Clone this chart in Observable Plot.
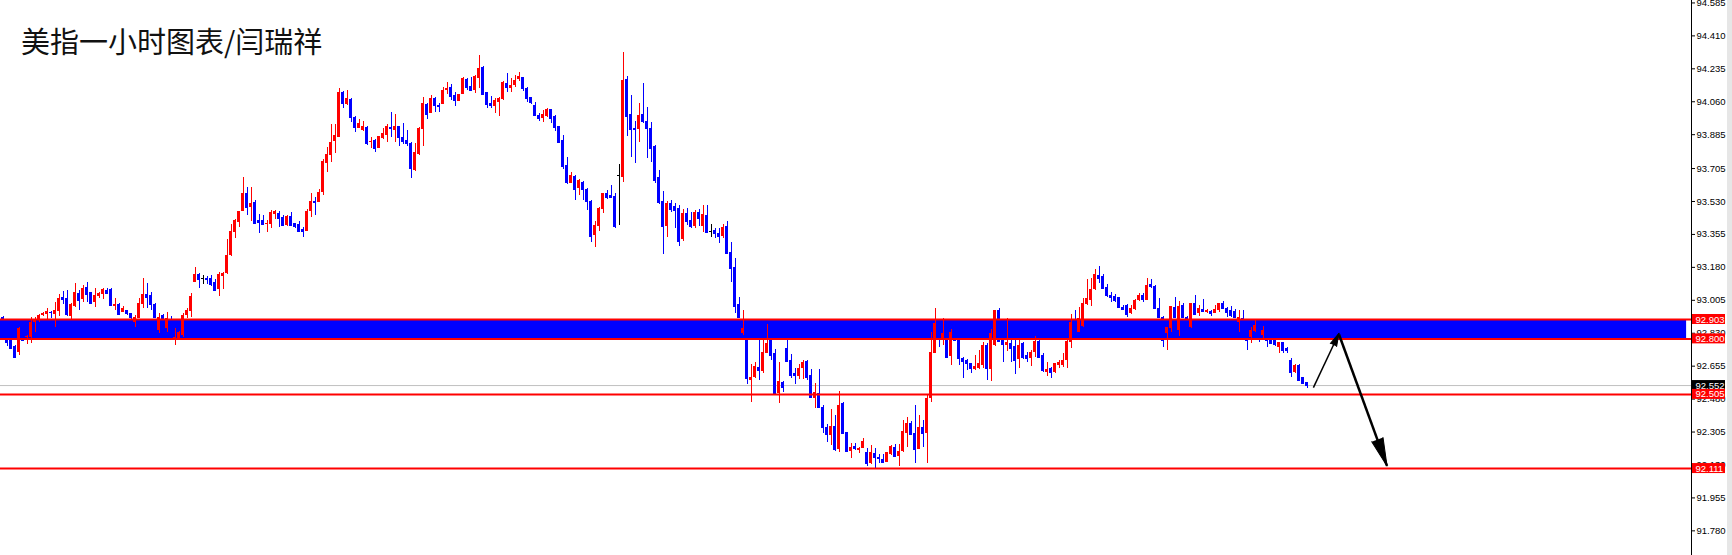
<!DOCTYPE html>
<html><head><meta charset="utf-8">
<script src="https://cdn.jsdelivr.net/npm/d3@7"></script>
<script src="https://cdn.jsdelivr.net/npm/@observablehq/plot@0.6"></script>
<style>
html,body{margin:0;padding:0;background:#fff;}
#wrap{position:relative;width:1732px;height:555px;overflow:hidden;background:#fff;}
#title{position:absolute;left:21px;top:26px;font-family:"Noto Sans CJK SC";font-size:29px;line-height:1;color:#111;font-weight:400;white-space:nowrap;}
#edge{position:absolute;right:0;top:0;width:5px;height:555px;background:#e6e6e6;}
</style></head><body>
<div id="wrap"><div id="title">美指一小时图表/闫瑞祥</div><div id="edge"></div></div>
<script>
// Hourly candles, USD index (open / high / low / close)
const opens = [92.915,92.800,92.792,92.760,92.730,92.800,92.807,92.809,92.885,92.898,92.924,92.928,92.942,92.930,92.946,93.022,93.016,92.921,92.974,93.041,93.009,93.071,93.047,92.995,93.024,93.038,93.059,93.062,92.970,92.981,92.939,92.951,92.933,92.885,92.907,92.983,93.036,93.031,92.983,92.845,92.925,92.854,92.900,92.796,92.801,92.818,92.925,92.947,93.102,93.142,93.119,93.123,93.119,93.102,93.063,93.133,93.146,93.243,93.367,93.420,93.477,93.574,93.500,93.527,93.429,93.429,93.411,93.408,93.463,93.465,93.443,93.403,93.450,93.412,93.406,93.381,93.372,93.479,93.532,93.527,93.580,93.734,93.775,93.849,93.872,94.111,94.046,94.072,93.978,93.920,93.907,93.925,93.846,93.854,93.810,93.867,93.881,93.925,93.907,93.929,93.868,93.854,93.837,93.695,93.780,93.911,94.046,93.996,94.076,94.040,94.046,94.122,94.138,94.093,94.063,94.099,94.178,94.143,94.120,94.182,94.244,94.111,94.051,94.035,94.058,94.072,94.155,94.132,94.146,94.177,94.187,94.132,94.081,94.040,93.987,93.973,93.984,94.019,93.984,93.929,93.854,93.721,93.628,93.663,93.601,93.633,93.594,93.532,93.350,93.399,93.486,93.574,93.562,93.557,93.668,93.659,94.178,93.993,93.920,93.911,93.993,93.955,93.920,93.824,93.659,93.530,93.399,93.520,93.505,93.491,93.327,93.465,93.429,93.399,93.474,93.399,93.456,93.373,93.376,93.362,93.346,93.397,93.261,93.181,92.983,92.827,92.830,92.579,92.597,92.650,92.629,92.721,92.801,92.721,92.508,92.570,92.748,92.686,92.615,92.602,92.641,92.682,92.606,92.485,92.512,92.438,92.331,92.287,92.334,92.212,92.455,92.301,92.203,92.230,92.207,92.219,92.194,92.136,92.189,92.171,92.157,92.141,92.186,92.225,92.175,92.202,92.299,92.352,92.295,92.212,92.331,92.299,92.485,92.721,92.830,92.791,92.800,92.708,92.809,92.800,92.694,92.685,92.671,92.637,92.644,92.659,92.765,92.637,92.765,92.951,92.795,92.765,92.777,92.761,92.689,92.774,92.712,92.697,92.726,92.786,92.712,92.623,92.641,92.620,92.659,92.659,92.685,92.779,92.905,92.832,92.867,92.981,93.004,93.062,93.137,93.133,93.075,93.030,93.025,93.018,92.968,92.977,92.933,92.956,93.004,93.030,93.004,93.089,93.080,92.963,92.915,92.827,92.854,92.969,92.845,92.978,92.916,92.863,92.987,92.933,92.955,92.939,92.946,92.933,92.951,92.990,92.964,92.951,92.946,92.886,92.910,92.860,92.809,92.840,92.870,92.818,92.840,92.800,92.800,92.756,92.779,92.751,92.686,92.620,92.659,92.593,92.567];
const highs = [92.921,92.810,92.804,92.765,92.862,92.805,92.818,92.915,92.915,92.928,92.940,92.963,92.946,92.995,93.034,93.052,93.057,92.986,93.094,93.057,93.084,93.098,93.048,93.066,93.048,93.066,93.066,93.066,93.013,92.986,92.972,92.951,92.935,92.924,93.013,93.119,93.093,93.048,92.986,92.937,92.930,92.940,92.919,92.854,92.840,92.933,92.960,93.040,93.178,93.149,93.137,93.132,93.137,93.114,93.155,93.155,93.328,93.408,93.433,93.477,93.659,93.606,93.606,93.535,93.461,93.456,93.429,93.482,93.482,93.477,93.456,93.456,93.472,93.415,93.426,93.394,93.486,93.571,93.550,93.594,93.752,93.819,93.939,93.939,94.132,94.116,94.120,94.079,93.984,93.966,93.955,93.930,93.868,93.860,93.877,93.920,93.938,94.001,93.991,93.929,93.943,93.907,93.842,93.837,93.925,94.084,94.049,94.093,94.085,94.049,94.138,94.164,94.150,94.111,94.099,94.191,94.185,94.191,94.200,94.306,94.249,94.111,94.088,94.079,94.085,94.168,94.208,94.185,94.200,94.217,94.191,94.138,94.081,94.054,93.996,94.014,94.026,94.019,93.987,93.929,93.881,93.762,93.686,93.668,93.647,93.636,93.597,93.535,93.424,93.500,93.574,93.589,93.615,93.571,93.727,94.320,94.194,94.093,93.955,94.053,94.155,94.031,93.952,93.828,93.695,93.585,93.530,93.535,93.520,93.510,93.488,93.491,93.474,93.482,93.488,93.509,93.509,93.406,93.385,93.389,93.406,93.424,93.314,93.229,93.022,92.951,92.840,92.662,92.677,92.809,92.801,92.877,92.801,92.744,92.677,92.576,92.801,92.716,92.641,92.662,92.686,92.686,92.638,92.565,92.638,92.446,92.344,92.425,92.393,92.522,92.460,92.301,92.246,92.242,92.225,92.269,92.216,92.233,92.216,92.184,92.184,92.194,92.233,92.237,92.239,92.366,92.380,92.361,92.446,92.393,92.366,92.504,92.836,92.960,92.850,92.907,92.809,92.848,92.815,92.809,92.703,92.689,92.671,92.712,92.738,92.782,92.774,92.848,92.951,92.960,92.810,92.907,92.791,92.791,92.791,92.779,92.729,92.738,92.814,92.800,92.721,92.676,92.646,92.671,92.685,92.724,92.791,92.928,92.951,92.968,93.016,93.115,93.119,93.169,93.186,93.140,93.087,93.048,93.034,93.022,92.977,92.981,92.977,93.007,93.039,93.039,93.119,93.114,93.084,93.016,92.920,92.863,92.974,93.022,92.999,92.987,92.920,92.987,93.031,92.978,93.010,92.955,92.951,92.978,92.987,92.999,92.969,92.974,92.956,92.951,92.951,92.880,92.863,92.898,92.880,92.868,92.850,92.810,92.805,92.783,92.783,92.756,92.694,92.663,92.663,92.597,92.570];
const lows = [92.818,92.761,92.747,92.700,92.712,92.790,92.772,92.774,92.836,92.885,92.920,92.903,92.907,92.862,92.921,92.981,92.921,92.898,92.969,92.951,92.995,92.992,92.983,92.969,93.013,93.009,93.034,92.977,92.951,92.924,92.939,92.924,92.905,92.862,92.907,92.960,92.960,92.951,92.915,92.827,92.880,92.834,92.795,92.764,92.790,92.810,92.907,92.912,93.102,93.066,93.089,93.089,93.079,93.054,93.025,93.063,93.142,93.240,93.335,93.394,93.477,93.456,93.424,93.415,93.362,93.408,93.367,93.388,93.436,93.394,93.397,93.399,93.399,93.388,93.372,93.341,93.372,93.447,93.456,93.527,93.562,93.686,93.739,93.787,93.872,94.023,94.040,93.948,93.899,93.916,93.902,93.828,93.810,93.792,93.810,93.858,93.845,93.872,93.842,93.822,93.831,93.822,93.654,93.690,93.775,93.824,93.966,93.996,94.005,94.005,94.046,94.097,94.067,94.037,94.063,94.099,94.120,94.115,94.106,94.129,94.093,94.023,94.023,93.996,93.984,94.067,94.111,94.107,94.138,94.170,94.116,94.058,94.045,93.984,93.955,93.952,93.978,93.946,93.902,93.837,93.700,93.619,93.628,93.535,93.562,93.535,93.482,93.314,93.288,93.373,93.468,93.541,93.544,93.385,93.403,93.633,93.877,93.766,93.730,93.845,93.943,93.757,93.736,93.624,93.512,93.247,93.341,93.470,93.385,93.293,93.318,93.403,93.385,93.385,93.399,93.367,93.358,93.341,93.332,93.305,93.332,93.247,93.098,92.933,92.907,92.818,92.558,92.461,92.588,92.579,92.615,92.721,92.686,92.500,92.459,92.517,92.682,92.592,92.556,92.585,92.585,92.579,92.485,92.429,92.432,92.296,92.252,92.233,92.202,92.198,92.296,92.203,92.163,92.207,92.189,92.216,92.124,92.133,92.106,92.140,92.141,92.141,92.180,92.172,92.122,92.198,92.225,92.287,92.140,92.210,92.225,92.140,92.464,92.721,92.756,92.765,92.697,92.659,92.785,92.659,92.588,92.632,92.614,92.632,92.637,92.641,92.579,92.575,92.759,92.779,92.673,92.733,92.673,92.609,92.641,92.690,92.676,92.655,92.703,92.703,92.623,92.602,92.588,92.614,92.641,92.650,92.641,92.751,92.830,92.832,92.862,92.977,92.974,93.057,93.092,93.061,93.022,92.995,92.992,92.960,92.951,92.915,92.928,92.951,93.000,92.995,93.004,93.066,92.960,92.907,92.756,92.739,92.836,92.907,92.815,92.907,92.850,92.854,92.925,92.921,92.942,92.935,92.921,92.933,92.942,92.956,92.916,92.916,92.907,92.836,92.792,92.739,92.774,92.836,92.783,92.792,92.756,92.774,92.762,92.724,92.721,92.721,92.597,92.615,92.576,92.562,92.535];
const closes = [92.836,92.783,92.751,92.703,92.857,92.793,92.815,92.885,92.898,92.924,92.937,92.946,92.939,92.951,93.016,93.009,92.928,92.983,93.045,93.006,93.066,93.038,92.986,93.031,93.039,93.061,93.041,92.977,92.981,92.930,92.960,92.937,92.915,92.915,92.990,93.036,93.020,92.981,92.915,92.914,92.905,92.907,92.830,92.806,92.836,92.924,92.951,93.025,93.142,93.114,93.119,93.116,93.089,93.057,93.142,93.149,93.243,93.371,93.429,93.477,93.574,93.500,93.521,93.415,93.420,93.408,93.415,93.470,93.477,93.438,93.403,93.450,93.403,93.399,93.372,93.372,93.479,93.532,93.527,93.580,93.744,93.780,93.845,93.881,94.108,94.049,94.076,93.978,93.925,93.943,93.930,93.837,93.849,93.813,93.877,93.890,93.929,93.916,93.929,93.872,93.849,93.837,93.704,93.792,93.920,94.053,93.991,94.079,94.040,94.035,94.120,94.132,94.090,94.067,94.099,94.185,94.138,94.120,94.194,94.239,94.099,94.046,94.040,94.067,94.079,94.164,94.138,94.146,94.173,94.194,94.132,94.076,94.058,93.987,93.973,93.991,94.019,93.973,93.925,93.842,93.718,93.633,93.668,93.594,93.642,93.592,93.532,93.346,93.403,93.495,93.574,93.553,93.551,93.397,93.668,94.173,93.984,93.911,93.911,93.987,93.955,93.916,93.814,93.642,93.523,93.399,93.520,93.490,93.482,93.318,93.465,93.426,93.399,93.470,93.442,93.461,93.367,93.373,93.358,93.346,93.390,93.252,93.173,92.974,92.912,92.854,92.588,92.597,92.654,92.632,92.730,92.774,92.712,92.508,92.576,92.544,92.682,92.606,92.606,92.645,92.677,92.597,92.491,92.517,92.438,92.331,92.291,92.334,92.210,92.446,92.299,92.203,92.221,92.216,92.216,92.255,92.140,92.194,92.171,92.163,92.141,92.194,92.230,92.177,92.202,92.308,92.352,92.292,92.212,92.327,92.299,92.481,92.729,92.880,92.798,92.827,92.703,92.836,92.790,92.697,92.682,92.667,92.644,92.653,92.671,92.765,92.641,92.827,92.951,92.788,92.768,92.783,92.751,92.685,92.765,92.703,92.694,92.729,92.786,92.703,92.632,92.637,92.620,92.667,92.673,92.685,92.786,92.889,92.850,92.910,92.986,93.016,93.062,93.140,93.119,93.066,93.030,93.022,93.004,92.965,92.956,92.930,92.963,93.004,93.030,93.007,93.084,93.080,92.963,92.915,92.792,92.863,92.974,92.916,92.974,92.916,92.880,92.987,92.928,92.964,92.946,92.951,92.933,92.956,92.987,92.964,92.939,92.925,92.916,92.916,92.850,92.790,92.845,92.871,92.810,92.845,92.790,92.774,92.770,92.779,92.739,92.739,92.620,92.659,92.579,92.562,92.552];

// Axis tick labels (price)
const tickValues = [94.585,94.410,94.235,94.060,93.885,93.705,93.530,93.355,93.180,93.005,92.830,92.655,92.480,92.305,92.130,91.955,91.780];

// Horizontal levels (red lines) and the resistance zone
const levelPrices = [92.903, 92.800, 92.505, 92.111];
const zoneLow = 92.800, zoneHigh = 92.903, zoneEndBar = 420.9;
const lastPrice = 92.552;

// Hand-drawn arrows (bar index, price)
const arrowUp = {x1: 327.6, y1: 92.541, x2: 334.0, y2: 92.830};
const arrowDown = {x1: 334.0, y1: 92.823, x2: 346.0, y2: 92.125};

const xMin = -0.625, xMax = 422.125;
const W = 1732, H = 555, MR = 41;
const yDomain = [91.649, 94.598];
const candles = opens.map((o, i) => ({
  i, o, h: highs[i], l: lows[i], c: closes[i],
  color: closes[i] > o ? "#ff0000" : closes[i] < o ? "#0000ff" : "#000000"
}));

// arrow directions in screen space (degrees clockwise from north)
const sx = Plot.scale({x: {type: "linear", domain: [xMin, xMax], range: [0, W - MR]}});
const sy = Plot.scale({y: {type: "linear", domain: yDomain, range: [H, 0]}});
function angleOf(a) {
  const dx = sx.apply(a.x2) - sx.apply(a.x1);
  const dy = sy.apply(a.y2) - sy.apply(a.y1);
  return Math.atan2(dx, -dy) * 180 / Math.PI;
}
arrowUp.angle = angleOf(arrowUp);
arrowDown.angle = angleOf(arrowDown);

const labelFont = "Liberation Sans, Arial, sans-serif";

const chart = Plot.plot({
  width: W, height: H,
  marginLeft: 0, marginRight: MR, marginTop: 0, marginBottom: 0,
  x: {type: "linear", domain: [xMin, xMax], axis: null},
  y: {type: "linear", domain: yDomain, axis: null},
  style: {background: "transparent", overflow: "visible"},
  marks: [
    Plot.ruleY([lastPrice], {x1: xMin, x2: xMax, stroke: "#c0c0c0", strokeWidth: 1}),
    Plot.rect([{lo: zoneLow, hi: zoneHigh}], {x1: xMin, x2: zoneEndBar, y1: "lo", y2: "hi", fill: "#0000ff"}),
    Plot.ruleX(candles, {x: "i", y1: "l", y2: "h", stroke: "color", strokeWidth: 1, shapeRendering: "crispEdges"}),
    Plot.rect(candles, {x1: d => d.i - 0.375, x2: d => d.i + 0.375, y1: "o", y2: "c", fill: "color", shapeRendering: "crispEdges"}),
    Plot.ruleY(candles, {x1: d => d.i - 0.375, x2: d => d.i + 0.375, y: "c", stroke: "color", strokeWidth: 1, shapeRendering: "crispEdges"}),
    Plot.ruleY(levelPrices, {x1: xMin, x2: xMax, stroke: "#ff0000", strokeWidth: 2}),
    // arrows: shaft + filled head
    Plot.link([arrowUp], {x1: "x1", y1: "y1", x2: "x2", y2: "y2", stroke: "#000", strokeWidth: 1.5}),
    Plot.vector([arrowUp], {x: "x2", y: "y2", rotate: "angle", length: 13, anchor: "end", shape: "spike", r: 3.5, fill: "#000", stroke: "#000", strokeWidth: 1}),
    Plot.link([arrowDown], {x1: "x1", y1: "y1", x2: "x2", y2: "y2", stroke: "#000", strokeWidth: 2.5}),
    Plot.vector([arrowDown], {x: "x2", y: "y2", rotate: "angle", length: 28, anchor: "end", shape: "spike", r: 6, fill: "#000", stroke: "#000", strokeWidth: 1}),
    // right axis
    Plot.ruleX([xMax], {stroke: "#000", strokeWidth: 1}),
    Plot.ruleY(tickValues, {x1: xMax, x2: xMax, insetRight: -4, stroke: "#000", strokeWidth: 1}),
    Plot.text(tickValues, {x: xMax, y: d => d, text: d => d.toFixed(3), dx: 5, textAnchor: "start", fill: "#000", fontSize: 9.5, fontFamily: labelFont}),
    // price labels on the axis
    Plot.rect([lastPrice], {x1: xMax, x2: xMax, y1: d => d, y2: d => d, insetLeft: 1, insetRight: -34, insetTop: -5, insetBottom: -5, fill: "#000"}),
    Plot.text([lastPrice], {x: xMax, y: d => d, text: d => d.toFixed(3), dx: 4, textAnchor: "start", fill: "#fff", fontSize: 9.5, fontFamily: labelFont}),
    Plot.rect(levelPrices, {x1: xMax, x2: xMax, y1: d => d, y2: d => d, insetLeft: 1, insetRight: -34, insetTop: -5, insetBottom: -5, fill: "#ff0000"}),
    Plot.text(levelPrices, {x: xMax, y: d => d, text: d => d.toFixed(3), dx: 4, textAnchor: "start", fill: "#fff", fontSize: 9.5, fontFamily: labelFont})
  ]
});
chart.style.position = "absolute";
chart.style.left = "0";
chart.style.top = "0";
const wrap = document.getElementById("wrap");
wrap.insertBefore(chart, wrap.firstChild);
</script>
</body></html>
